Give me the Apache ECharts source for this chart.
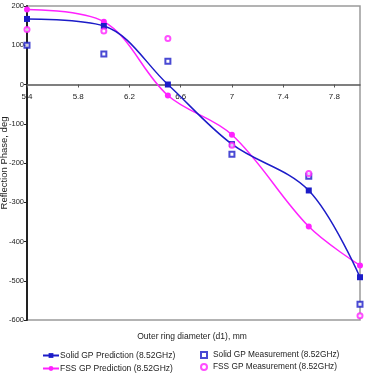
<!DOCTYPE html>
<html><head><meta charset="utf-8">
<script src="https://cdn.jsdelivr.net/npm/echarts@6/dist/echarts.min.js"></script>
<style>html,body{margin:0;padding:0;background:#fff}#c{width:365px;height:381px}</style>
</head><body><div id="c"></div>
<script>
const xValues = [5.4, 6.0, 6.5, 7.0, 7.6, 8.0];
const solidPrediction = [167, 149, 0, -152, -270, -491];
const fssPrediction = [191, 160, -28, -128, -362, -461];
const solidMeasurement = [100, 78, 59, -178, -234, -560];
const fssMeasurement = [140, 136, 117, -155, -227, -589];
const xTickLabels = [5.4, 5.8, 6.2, 6.6, 7.0, 7.4, 7.8];
const seriesNames = ['Solid GP Prediction (8.52GHz)', 'Solid GP Measurement (8.52GHz)', 'FSS GP Prediction (8.52GHz)', 'FSS GP Measurement (8.52GHz)'];

const pairs = arr => xValues.map((x, i) => [x, arr[i]]);
const FONT = '"Liberation Sans", Arial, sans-serif';
const BLUE = '#1c1cc8';
const MAG = '#ff22ff';

const chart = echarts.init(document.getElementById('c'), null, {renderer: 'canvas'});
chart.setOption({
  animation: false,
  backgroundColor: '#fff',
  textStyle: {fontFamily: FONT},
  grid: {left: 27, right: 5, top: 6, bottom: 61, show: true, borderColor: '#9a9a9a', borderWidth: 1.5,
    containLabel: false, outerBoundsMode: 'none'},
  title: {text: 'Outer ring diameter (d1), mm', left: 192, top: 332, textAlign: 'center', padding: 0,
    textStyle: {fontFamily: FONT, fontSize: 8.5, fontWeight: 'normal', color: '#222'}},
  legend: [
    {data: [seriesNames[0], seriesNames[2]], orient: 'vertical', left: 42, top: 351, height: 30, padding: 0,
      itemWidth: 16, itemHeight: 6, itemGap: 4,
      textStyle: {fontFamily: FONT, fontSize: 8.5, color: '#222', padding: [0, 0, 0, -4]}},
    {data: [seriesNames[1], seriesNames[3]], orient: 'vertical', left: 200, top: 351, height: 30, padding: 0,
      itemWidth: 6, itemHeight: 6, itemGap: 4,
      textStyle: {fontFamily: FONT, fontSize: 8.3, color: '#222', padding: [0, 0, 0, 1]}}
  ],
  xAxis: {
    type: 'value', min: 5.4, max: 8.0, position: 'bottom', offset: -235.5,
    axisLine: {onZero: false, lineStyle: {color: '#555', width: 1.5}},
    axisTick: {show: true, inside: false, length: 3, customValues: xTickLabels, lineStyle: {color: '#555'}},
    axisLabel: {customValues: xTickLabels, fontSize: 8, color: '#222', margin: 8, fontFamily: FONT,
      formatter: v => String(Math.round(v * 10) / 10)},
    splitLine: {show: false}
  },
  yAxis: {
    type: 'value', min: -600, max: 200, interval: 100,
    name: 'Reflection Phase, deg', nameLocation: 'middle', nameGap: 18, nameMoveOverlap: false,
    nameTextStyle: {fontFamily: FONT, fontSize: 9.5, color: '#222'},
    axisLine: {show: true, onZero: false, lineStyle: {color: '#222', width: 2}},
    axisTick: {show: true, length: 3, lineStyle: {color: '#222'}},
    axisLabel: {fontSize: 7.5, color: '#222', margin: 3, fontFamily: FONT},
    splitLine: {show: false}
  },
  series: [
    {name: seriesNames[0], type: 'line', data: pairs(solidPrediction), smooth: 0.35,
      symbol: 'rect', symbolSize: 6, itemStyle: {color: BLUE}, lineStyle: {color: BLUE, width: 1.5}, z: 3},
    {name: seriesNames[2], type: 'line', data: pairs(fssPrediction), smooth: 0.35,
      symbol: 'circle', symbolSize: 6, itemStyle: {color: MAG}, lineStyle: {color: MAG, width: 1.5}, z: 2},
    {name: seriesNames[1], type: 'scatter', data: pairs(solidMeasurement),
      symbol: 'emptyRect', symbolSize: 5, itemStyle: {color: BLUE, borderColor: BLUE, borderWidth: 1.2}, z: 4},
    {name: seriesNames[3], type: 'scatter', data: pairs(fssMeasurement),
      symbol: 'emptyCircle', symbolSize: 5, itemStyle: {color: MAG, borderColor: MAG, borderWidth: 1.2}, z: 4}
  ]
});
</script></body></html>
